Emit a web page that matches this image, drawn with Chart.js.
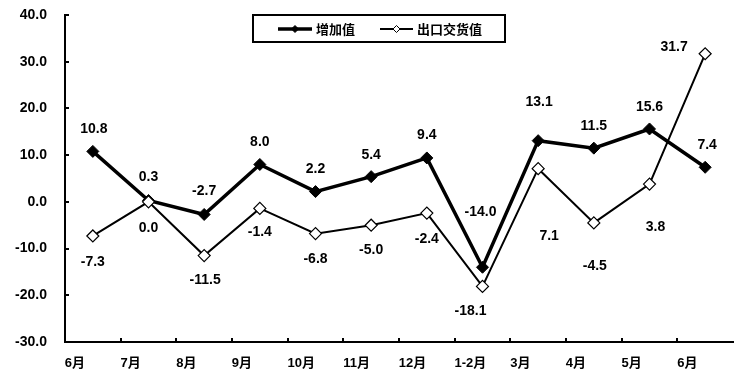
<!DOCTYPE html>
<html>
<head>
<meta charset="utf-8">
<script src="https://cdn.jsdelivr.net/npm/chart.js@4.4.1/dist/chart.umd.min.js"></script>
<style>
  html, body { margin:0; padding:0; background:#fff; }
  #wrap { width:741px; height:370px; position:relative; }
</style>
</head>
<body>
<div id="wrap"><canvas id="chart"></canvas></div>
<script>
/* ---- data ---- */
const months      = ['6月','7月','8月','9月','10月','11月','12月','1-2月','3月','4月','5月','6月'];
const addedValue  = [10.8, 0.3, -2.7, 8.0, 2.2, 5.4, 9.4, -14.0, 13.1, 11.5, 15.6, 7.4];
const exportValue = [-7.3, 0.0, -11.5, -1.4, -6.8, -5.0, -2.4, -18.1, 7.1, -4.5, 3.8, 31.7];
const seriesNames = ['增加值', '出口交货值'];
const yMin = -30, yMax = 40, yStep = 10;

const FONT = "'Liberation Sans', Arial, 'Noto Sans CJK SC', sans-serif";

/* value label nudges (px), per series */
const labelShift = [
  [[1,-22],[0,-23],[0,-23],[0,-22],[0,-22],[0,-21],[0,-23],[-2,-55],[1,-39],[0,-22],[0,-22],[2,-22]],
  [[0,26],[0,26],[1,25],[0,24],[0,26],[0,25],[0,26],[-12,25],[11,67],[1,43],[6,43],[-31,-7]]
];

/* ---- plugins ---- */
const innerTicks = {
  id: 'innerTicks',
  afterDraw(chart) {
    const { ctx, chartArea: a, scales: { x, y } } = chart;
    ctx.save();
    ctx.strokeStyle = '#000';
    ctx.lineWidth = 2;
    ctx.beginPath();
    y.ticks.forEach(t => {
      const py = Math.round(y.getPixelForValue(t.value));
      ctx.moveTo(a.left, py); ctx.lineTo(a.left + 4, py);
    });
    for (let i = 1; i < months.length; i++) {
      const px = Math.round((x.getPixelForValue(i - 1) + x.getPixelForValue(i)) / 2);
      ctx.moveTo(px, a.bottom); ctx.lineTo(px, a.bottom - 4);
    }
    ctx.stroke();
    ctx.restore();
  }
};

const valueLabels = {
  id: 'valueLabels',
  afterDatasetsDraw(chart) {
    const { ctx } = chart;
    ctx.save();
    ctx.font = 'bold 14px ' + FONT;
    ctx.fillStyle = '#000';
    ctx.textAlign = 'center';
    ctx.textBaseline = 'middle';
    chart.data.datasets.forEach((ds, di) => {
      chart.getDatasetMeta(di).data.forEach((pt, i) => {
        const [dx, dy] = labelShift[di][i];
        ctx.fillText(ds.data[i].toFixed(1), pt.x + dx, pt.y + dy);
      });
    });
    ctx.restore();
  }
};

const boxLegend = {
  id: 'boxLegend',
  afterDraw(chart) {
    const { ctx } = chart;
    ctx.save();
    ctx.strokeStyle = '#000';
    ctx.lineWidth = 2;
    ctx.strokeRect(253, 15, 252, 27);
    const items = [
      { x: 278, w: 34, lw: 3.5, fill: '#000', r: 3.5 },
      { x: 380, w: 33, lw: 2,   fill: '#fff', r: 3.5 }
    ];
    const cy = 29;
    items.forEach((it, i) => {
      ctx.lineWidth = it.lw;
      ctx.beginPath();
      ctx.moveTo(it.x, cy); ctx.lineTo(it.x + it.w, cy);
      ctx.stroke();
      const mx = it.x + it.w / 2;
      ctx.beginPath();
      ctx.moveTo(mx - it.r, cy); ctx.lineTo(mx, cy - it.r);
      ctx.lineTo(mx + it.r, cy); ctx.lineTo(mx, cy + it.r);
      ctx.closePath();
      ctx.fillStyle = it.fill;
      ctx.fill();
      ctx.lineWidth = 1;
      ctx.stroke();
      ctx.fillStyle = '#000';
      ctx.font = 'bold 13px ' + FONT;
      ctx.textAlign = 'left';
      ctx.textBaseline = 'middle';
      ctx.fillText(seriesNames[i], it.x + it.w + 4, cy + 1);
    });
    ctx.restore();
  }
};

/* ---- chart ---- */
new Chart(document.getElementById('chart'), {
  type: 'line',
  data: {
    labels: months,
    datasets: [
      { label: seriesNames[0], data: addedValue, order: 2,
        borderColor: '#000', borderWidth: 3.5, tension: 0,
        pointStyle: 'rectRot', pointRadius: 6, pointBackgroundColor: '#000',
        pointBorderColor: '#000', pointBorderWidth: 1 },
      { label: seriesNames[1], data: exportValue, order: 1,
        borderColor: '#000', borderWidth: 2, tension: 0,
        pointStyle: 'rectRot', pointRadius: 6, pointBackgroundColor: '#fff',
        pointBorderColor: '#000', pointBorderWidth: 1.2 }
    ]
  },
  options: {
    responsive: true,
    maintainAspectRatio: false,
    animation: false,
    devicePixelRatio: 1,
    layout: { padding: { top: 15, right: 8, left: 0, bottom: 0 } },
    plugins: { legend: { display: false }, tooltip: { enabled: false } },
    scales: {
      x: {
        offset: true,
        grid: { display: false, drawTicks: false },
        border: { display: true, color: '#000', width: 2 },
        ticks: { color: '#000', font: { family: FONT, size: 13, weight: 'bold' },
                 align: 'start', labelOffset: -28, padding: 14, maxRotation: 0, autoSkip: false },
        afterFit(s) { s.height = 28; s.paddingLeft = 0; s.paddingRight = 0; }
      },
      y: {
        min: yMin, max: yMax,
        grid: { display: false, drawTicks: false },
        border: { display: true, color: '#000', width: 2 },
        ticks: { stepSize: yStep, color: '#000', padding: 18,
                 font: { family: FONT, size: 14, weight: 'bold' },
                 callback: v => Number(v).toFixed(1) },
        afterFit(s) { s.width = 65; s.paddingTop = 0; s.paddingBottom = 0; }
      }
    }
  },
  plugins: [innerTicks, valueLabels, boxLegend]
});
</script>
</body>
</html>
